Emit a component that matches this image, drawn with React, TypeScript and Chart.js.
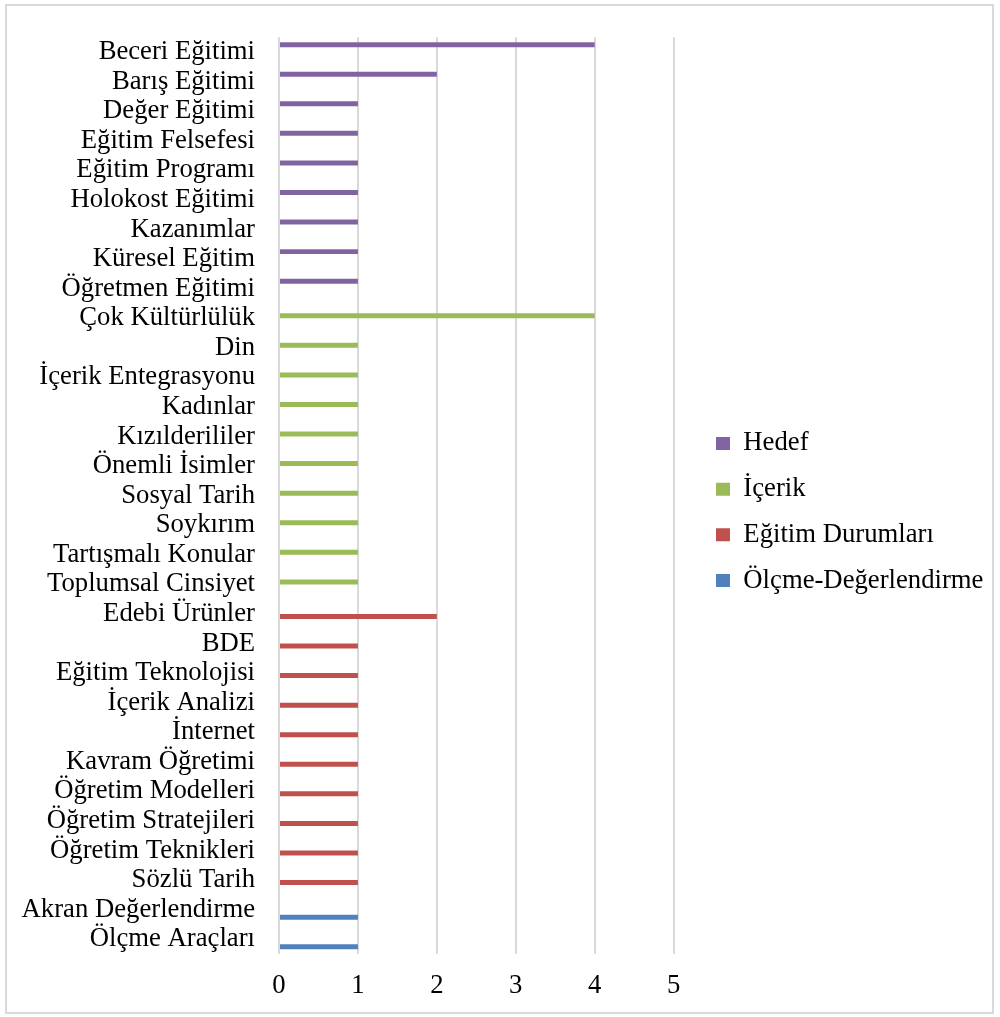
import React, { useEffect, useRef } from "react";
import { Chart, registerables } from "chart.js";

Chart.register(...registerables);

const hedefLabels = [
  "Beceri Eğitimi", "Barış Eğitimi", "Değer Eğitimi", "Eğitim Felsefesi", "Eğitim Programı",
  "Holokost Eğitimi", "Kazanımlar", "Küresel Eğitim", "Öğretmen Eğitimi",
];
const hedefValues = [4, 2, 1, 1, 1, 1, 1, 1, 1];

const icerikLabels = [
  "Çok Kültürlülük", "Din", "İçerik Entegrasyonu", "Kadınlar", "Kızılderililer",
  "Önemli İsimler", "Sosyal Tarih", "Soykırım", "Tartışmalı Konular", "Toplumsal Cinsiyet",
];
const icerikValues = [4, 1, 1, 1, 1, 1, 1, 1, 1, 1];

const durumLabels = [
  "Edebi Ürünler", "BDE", "Eğitim Teknolojisi", "İçerik Analizi", "İnternet",
  "Kavram Öğretimi", "Öğretim Modelleri", "Öğretim Stratejileri", "Öğretim Teknikleri", "Sözlü Tarih",
];
const durumValues = [2, 1, 1, 1, 1, 1, 1, 1, 1, 1];

const olcmeLabels = ["Akran Değerlendirme", "Ölçme Araçları"];
const olcmeValues = [1, 1];

const seriesNames = ["Hedef", "İçerik", "Eğitim Durumları", "Ölçme-Değerlendirme"];
const seriesColors = ["#8064a2", "#9bbb59", "#c0504d", "#4f81bd"];
const xTicks = [0, 1, 2, 3, 4, 5];

const FONT = "'Liberation Serif', 'Times New Roman', serif";
const FS = 26.7;

export default function App() {
  const ref = useRef<HTMLCanvasElement>(null);

  useEffect(() => {
    const groups = [
      { labels: hedefLabels, values: hedefValues },
      { labels: icerikLabels, values: icerikValues },
      { labels: durumLabels, values: durumValues },
      { labels: olcmeLabels, values: olcmeValues },
    ];
    const categories: string[] = groups.flatMap((g) => g.labels);
    const datasets = groups.map((g, gi) => {
      const data: (number | null)[] = [];
      groups.forEach((h, hi) => {
        h.values.forEach((v) => data.push(hi === gi ? v : null));
      });
      return {
        label: seriesNames[gi],
        data,
        backgroundColor: seriesColors[gi],
        borderColor: seriesColors[gi],
        borderWidth: 0,
        categoryPercentage: 0.676,
        barPercentage: 1.0,
      };
    });

    const LEGEND_PAD = 19;
    const legendShift = {
      id: "legendShift",
      afterLayout(chart: any) {
        const lg = chart.legend;
        if (!lg) return;
        lg.left = 716 - LEGEND_PAD;
        lg.right = lg.left + lg.width + 30;
        lg.top = 37;
        lg.bottom = 987;
      },
    };

    const chart = new Chart(ref.current!, {
      type: "bar",
      data: { labels: categories, datasets },
      plugins: [legendShift],
      options: {
        indexAxis: "y",
        animation: false,
        responsive: false,
        layout: { padding: { top: 37, bottom: 0, left: 0, right: 30 } },
        plugins: {
          tooltip: { enabled: false },
          legend: {
            position: "right",
            maxWidth: 400,
            labels: {
              boxWidth: 14,
              boxHeight: 13,
              padding: LEGEND_PAD,
              color: "#000",
              font: { family: FONT, size: FS, lineHeight: 1.2 },
            },
          },
        },
        scales: {
          x: {
            min: 0,
            max: 5,
            afterFit: (s: any) => { s.height = 63; },
            afterBuildTicks: (s: any) => { s.ticks = xTicks.map((v) => ({ value: v })); },
            grid: { color: "#d9d9d9", lineWidth: 2, drawTicks: false },
            border: { display: false },
            ticks: { stepSize: 1, padding: 16, color: "#000", font: { family: FONT, size: FS } },
          },
          y: {
            afterFit: (s: any) => { s.width = 279; },
            grid: { display: false, drawTicks: false },
            border: { display: false },
            ticks: {
              autoSkip: false,
              padding: 24,
              color: "#000",
              font: { family: FONT, size: FS, lineHeight: 1.0 },
            },
          },
        },
      },
    } as any);
    return () => chart.destroy();
  }, []);

  return (
    <div style={{ position: "absolute", left: 0, top: 0, width: 1000, height: 1017 }}>
      <div
        style={{
          position: "absolute",
          left: 5,
          top: 4,
          width: 989,
          height: 1010,
          boxSizing: "border-box",
          border: "2px solid #d9d9d9",
        }}
      />
      <canvas
        ref={ref}
        width={1000}
        height={1017}
        style={{ position: "absolute", left: 0, top: 0, width: 1000, height: 1017 }}
      />
    </div>
  );
}
